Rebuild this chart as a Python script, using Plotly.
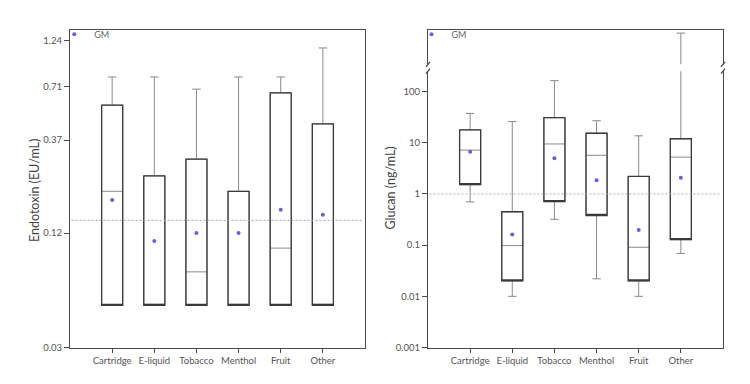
import plotly.graph_objects as go

categories = ["Cartridge", "E-liquid", "Tobacco", "Menthol", "Fruit", "Other"]

# Endotoxin (EU/mL)
endo_low = [0.05, 0.05, 0.05, 0.05, 0.05, 0.05]
endo_q1 = [0.05, 0.05, 0.05, 0.05, 0.05, 0.05]
endo_median = [0.199, 0.05, 0.075, 0.05, 0.10, 0.05]
endo_q3 = [0.565, 0.24, 0.294, 0.199, 0.656, 0.45]
endo_high = [0.795, 0.795, 0.686, 0.795, 0.795, 1.13]
endo_gm = [0.179, 0.109, 0.12, 0.12, 0.159, 0.15]
endo_ref = 0.14
endo_ticks = [0.03, 0.12, 0.37, 0.71, 1.24]

# Glucan (ng/mL)
glu_low = [0.70, 0.01, 0.32, 0.022, 0.01, 0.069]
glu_q1 = [1.52, 0.02, 0.71, 0.38, 0.02, 0.128]
glu_median = [7.2, 0.098, 9.5, 5.7, 0.091, 5.25]
glu_q3 = [17.9, 0.45, 31.0, 15.4, 2.2, 12.0]
glu_high = [37.5, 26.0, 164.0, 27.0, 13.7, 8300.0]
glu_gm = [6.7, 0.162, 5.0, 1.86, 0.197, 2.07]
glu_ref = 1.0
glu_ticks = [0.001, 0.01, 0.1, 1, 10, 100]
glu_tick_text = ["0.001", "0.01", "0.1", "1", "10", "100"]

FONT = "Lato"
BOX_DARK = "#3a3a3a"
WHISK = "#8a8a8a"
GM_COLOR = "#6b5fd6"
TICK_FONT = dict(family=FONT, size=9.5, color="#555555")

fig = go.Figure()


def add_boxes(xa, ya, low, q1, med, q3, high):
    # thin gray layer: whiskers + median
    fig.add_trace(go.Box(
        x=categories, q1=q1, median=med, q3=q3, lowerfence=low, upperfence=high,
        xaxis=xa, yaxis=ya, width=0.5, whiskerwidth=0.4,
        line=dict(color=WHISK, width=1), fillcolor="rgba(0,0,0,0)",
        boxpoints=False, showlegend=False, hoverinfo="skip"))
    # dark layer: box outline only
    fig.add_trace(go.Box(
        x=categories, q1=q1, median=q1, q3=q3, lowerfence=q1, upperfence=q3,
        xaxis=xa, yaxis=ya, width=0.5, whiskerwidth=0,
        line=dict(color=BOX_DARK, width=1.3), fillcolor="rgba(0,0,0,0)",
        boxpoints=False, showlegend=False, hoverinfo="skip"))


add_boxes("x", "y", endo_low, endo_q1, endo_median, endo_q3, endo_high)
add_boxes("x2", "y2", glu_low, glu_q1, glu_median, glu_q3, glu_high)
add_boxes("x3", "y3", glu_low, glu_q1, glu_median, glu_q3, glu_high)

fig.add_trace(go.Scatter(x=categories, y=endo_gm, mode="markers", name="GM",
                         marker=dict(color=GM_COLOR, size=4), xaxis="x", yaxis="y",
                         legend="legend"))
fig.add_trace(go.Scatter(x=categories, y=glu_gm, mode="markers", name="GM",
                         marker=dict(color=GM_COLOR, size=4), xaxis="x2", yaxis="y2",
                         legend="legend2"))

# reference lines
fig.add_shape(type="line", xref="x domain", yref="y", x0=0.005, x1=0.99,
              y0=endo_ref, y1=endo_ref, line=dict(color="#9c9cd0", width=1, dash="2px,2px"))
fig.add_shape(type="line", xref="x2 domain", yref="y2", x0=0.005, x1=0.995,
              y0=glu_ref, y1=glu_ref, line=dict(color="#b0b0b8", width=1, dash="2px,2px"))

AX = "#4a4a4a"
xcommon = dict(type="category", categoryorder="array", categoryarray=categories,
               range=[-1, 6], tickfont=TICK_FONT, ticks="outside", ticklen=4,
               tickcolor=AX, linecolor=AX, linewidth=1.3, showline=True,
               showgrid=False, zeroline=False)

fig.update_layout(
    width=750, height=384,
    margin=dict(l=0, r=0, t=0, b=0),
    paper_bgcolor="white", plot_bgcolor="white",
    font=dict(family=FONT, color="#444444"),
    xaxis=dict(domain=[0.0827, 0.476], anchor="y", mirror=True, **xcommon),
    yaxis=dict(domain=[0.1042, 0.9427], anchor="x", type="log",
               range=[-1.5229, 0.149], tickvals=endo_ticks,
               ticktext=[str(v) for v in endo_ticks], tickfont=TICK_FONT,
               ticks="outside", ticklen=5, tickcolor=AX, linecolor=AX,
               linewidth=1.3, showline=True, mirror=True, showgrid=False,
               zeroline=False),
    xaxis2=dict(domain=[0.56, 0.9533], anchor="y2", mirror=False, **xcommon),
    yaxis2=dict(domain=[0.1042, 0.8333], anchor="x2", type="log",
                range=[-3, 2.40], tickvals=glu_ticks, ticktext=glu_tick_text,
                tickfont=TICK_FONT, ticks="outside", ticklen=5, tickcolor=AX,
                linecolor=AX, linewidth=1.3, showline=True, mirror=True,
                showgrid=False, zeroline=False),
    xaxis3=dict(domain=[0.56, 0.9533], anchor="y3", type="category",
                categoryorder="array", categoryarray=categories, range=[-1, 6],
                side="top", showline=True, linecolor=AX, linewidth=1.3,
                showticklabels=False, ticks="", showgrid=False, zeroline=False),
    yaxis3=dict(domain=[0.8516, 0.941], anchor="x3", type="log", range=[3, 4],
                showline=True, mirror=True, linecolor=AX, linewidth=1.3,
                showticklabels=False, ticks="", showgrid=False, zeroline=False),
    legend=dict(x=0.0617, y=0.969, xanchor="left", yanchor="top",
                bgcolor="rgba(0,0,0,0)", font=dict(family=FONT, size=9, color="#666666"),
                itemwidth=30),
    legend2=dict(x=0.538, y=0.969, xanchor="left", yanchor="top",
                 bgcolor="rgba(0,0,0,0)", font=dict(family=FONT, size=9, color="#666666"),
                 itemwidth=30),
    annotations=[
        dict(text="Endotoxin (EU/mL)", xref="paper", yref="paper", x=17 / 750,
             y=1 - 185 / 384, textangle=-90, showarrow=False,
             font=dict(family=FONT, size=12.5, color="#444444")),
        dict(text="Glucan (ng/mL)", xref="paper", yref="paper", x=383 / 750,
             y=1 - 183 / 384, textangle=-90, showarrow=False,
             font=dict(family=FONT, size=12.5, color="#444444")),
    ],
)

# axis break marks
for xp in (420, 715):
    for yp in (57, 64):
        fig.add_shape(type="line", xref="paper", yref="paper",
                      x0=(xp - 2) / 750, x1=(xp + 2) / 750,
                      y0=1 - (yp + 2.5) / 384, y1=1 - (yp - 2.5) / 384,
                      line=dict(color=AX, width=1.3))

fig.write_html("out.html")
